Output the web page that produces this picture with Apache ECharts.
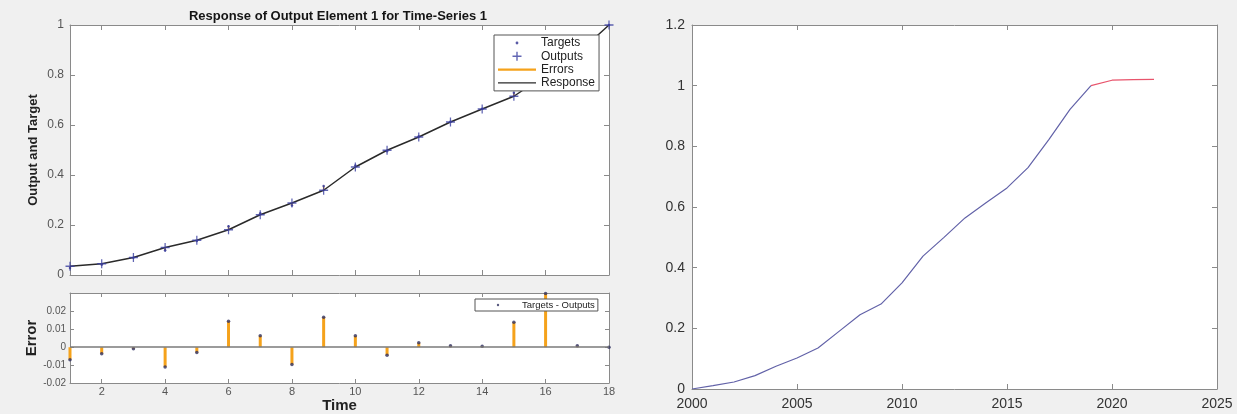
<!DOCTYPE html>
<html><head><meta charset="utf-8">
<script src="https://cdn.jsdelivr.net/npm/echarts@6/dist/echarts.min.js"></script>
<style>html,body{margin:0;padding:0;background:#f0f0f0;}#c{width:1237px;height:414px;}</style>
</head><body><div id="c"></div>
<script>
// ---- data ----
const timeSteps = [1,2,3,4,5,6,7,8,9,10,11,12,13,14,15,16,17,18];
const outputs = [0.035,0.045,0.070,0.110,0.139,0.181,0.241,0.288,0.339,0.432,0.499,0.552,0.612,0.664,0.715,0.800,0.885,1.000];
const targets = [0.028,0.041,0.069,0.099,0.136,0.195,0.247,0.278,0.356,0.438,0.495,0.555,0.613,0.665,0.729,0.830,0.886,1.000];
const errors  = [-0.007,-0.0036,-0.0008,-0.011,-0.003,0.0145,0.0064,-0.0096,0.0168,0.0064,-0.0045,0.0025,0.0008,0.0006,0.014,0.030,0.0008,0.0];
const timeTicks = [2,4,6,8,10,12,14,16,18];
const errorTicks = [-0.02,-0.01,0,0.01,0.02];
const histYears = [2000,2001,2002,2003,2004,2005,2006,2007,2008,2009,2010,2011,2012,2013,2014,2015,2016,2017,2018,2019];
const histValues = [0,0.011,0.023,0.044,0.075,0.102,0.135,0.19,0.245,0.28,0.35,0.438,0.50,0.564,0.614,0.663,0.73,0.823,0.922,1.0];
const fcstYears = [2019,2020,2021,2022];
const fcstValues = [1.0,1.018,1.02,1.021];

const FONT = 'Liberation Sans, Arial, sans-serif';
const AX = '#8a8a8a';
const fmt = v => String(+(+v).toFixed(3));
const yearFmt = v => String(Math.round(v));

function xA(grid, pos, opts) {
  return Object.assign({
    type: 'value', gridIndex: grid, position: pos,
    axisLine: {show: true, onZero: false, lineStyle: {color: AX, width: 1}},
    axisTick: {show: true, inside: true, length: 5, lineStyle: {color: AX}},
    axisLabel: {show: false},
    splitLine: {show: false}
  }, opts);
}

const chart = echarts.init(document.getElementById('c'));
const option = {
  animation: false,
  backgroundColor: '#f0f0f0',
  textStyle: {fontFamily: FONT},
  graphic: [{
    type: 'text', x: 338, y: 16,
    style: {text: 'Response of Output Element 1 for Time-Series 1', font: 'bold 13px ' + FONT,
      fill: '#151515', align: 'center', verticalAlign: 'middle', textAlign: 'center', textVerticalAlign: 'middle'}
  }],
  grid: [
    {left: 70, top: 25, width: 539, height: 250, show: true, backgroundColor: '#fff', borderWidth: 0},
    {left: 70, top: 293, width: 539, height: 90, show: true, backgroundColor: '#fff', borderWidth: 0},
    {left: 692, top: 25, width: 525, height: 364, show: true, backgroundColor: '#fff', borderWidth: 0}
  ],
  xAxis: [
    xA(0, 'bottom', {min: 1, max: 18, axisTick: {show: true, inside: true, length: 5, customValues: timeTicks, lineStyle: {color: AX}}}),
    xA(0, 'top', {min: 1, max: 18, axisTick: {show: true, inside: true, length: 5, customValues: timeTicks, lineStyle: {color: AX}}}),
    xA(1, 'bottom', {min: 1, max: 18,
      axisTick: {show: true, inside: true, length: 4, customValues: timeTicks, lineStyle: {color: AX}},
      axisLabel: {show: true, customValues: timeTicks, fontSize: 11, color: '#555', margin: 3, fontFamily: FONT},
      name: 'Time', nameLocation: 'middle', nameGap: 15,
      nameTextStyle: {fontSize: 15, fontWeight: 'bold', color: '#222', fontFamily: FONT}}),
    xA(1, 'top', {min: 1, max: 18, axisTick: {show: true, inside: true, length: 4, customValues: timeTicks, lineStyle: {color: AX}}}),
    xA(2, 'bottom', {min: 2000, max: 2025, interval: 5,
      axisLabel: {show: true, fontSize: 14, color: '#333', margin: 8, formatter: yearFmt, fontFamily: FONT}}),
    xA(2, 'top', {min: 2000, max: 2025, interval: 5})
  ],
  yAxis: [
    xA(0, 'left', {min: 0, max: 1, interval: 0.2,
      axisLabel: {show: true, fontSize: 12, color: '#555', margin: 6, formatter: fmt, fontFamily: FONT},
      name: 'Output and Target', nameLocation: 'middle', nameGap: 30,
      nameTextStyle: {fontSize: 13, fontWeight: 'bold', color: '#222', fontFamily: FONT}}),
    xA(0, 'right', {min: 0, max: 1, interval: 0.2}),
    xA(1, 'left', {min: -0.02, max: 0.0303, interval: 0.01,
      axisTick: {show: true, inside: true, length: 4, customValues: errorTicks, lineStyle: {color: AX}},
      axisLabel: {show: true, customValues: errorTicks, fontSize: 10, color: '#555', margin: 4, formatter: fmt, fontFamily: FONT},
      name: 'Error', nameLocation: 'middle', nameGap: 28,
      nameTextStyle: {fontSize: 15, fontWeight: 'bold', color: '#222', fontFamily: FONT}}),
    xA(1, 'right', {min: -0.02, max: 0.0303, interval: 0.01,
      axisTick: {show: true, inside: true, length: 4, customValues: errorTicks, lineStyle: {color: AX}}}),
    xA(2, 'left', {min: 0, max: 1.2, interval: 0.2,
      axisLabel: {show: true, fontSize: 14, color: '#333', margin: 7, formatter: fmt, fontFamily: FONT}}),
    xA(2, 'right', {min: 0, max: 1.2, interval: 0.2})
  ],
  legend: [
    {
      orient: 'vertical', left: 494, top: 35, padding: [2, 4, 2, 4], itemGap: 1.3, z: 30, zlevel: 0,
      itemWidth: 38, itemHeight: 12, backgroundColor: '#fff', borderColor: '#555', borderWidth: 1,
      selectedMode: false, borderRadius: 0,
      textStyle: {fontSize: 12, color: '#222', fontFamily: FONT},
      data: [
        {name: 'Targets', icon: 'path://M0,0M38,12M17.6,6a1.4,1.4 0 1,0 2.8,0a1.4,1.4 0 1,0 -2.8,0z', itemStyle: {color: '#2f3190', borderWidth: 0}},
        {name: 'Outputs', icon: 'path://M0,0M38,12M18.3,1.5h1.4v9h-1.4zM14.5,5.3h9v1.4h-9z', itemStyle: {color: '#3a3fa0', borderWidth: 0}},
        {name: 'Errors', icon: 'path://M0,0M38,12M0,5h38v2.2h-38z', itemStyle: {color: '#f5a21b', borderWidth: 0}},
        {name: 'Response', icon: 'path://M0,0M38,12M0,5.3h38v1.4h-38z', itemStyle: {color: '#2a2a2a', borderWidth: 0}}
      ]
    },
    {
      orient: 'vertical', left: 475, top: 299, padding: [1, 3, 1, 4], z: 30,
      itemWidth: 38, itemHeight: 10, backgroundColor: '#fff', borderColor: '#555', borderWidth: 1,
      selectedMode: false,
      textStyle: {fontSize: 9.5, color: '#222', fontFamily: FONT},
      data: [
        {name: 'Targets - Outputs', icon: 'path://M0,0M38,10M17.8,5a1.2,1.2 0 1,0 2.4,0a1.2,1.2 0 1,0 -2.4,0z', itemStyle: {color: '#2f3160', borderWidth: 0}}
      ]
    }
  ],
  series: [
    {
      name: 'Errors', type: 'custom', xAxisIndex: 0, yAxisIndex: 0, z: 2,
      data: timeSteps.map((t, i) => [t, outputs[i], targets[i]]),
      encode: {x: 0, y: [1, 2]},
      renderItem: (params, api) => {
        const a = api.coord([api.value(0), api.value(1)]);
        const b = api.coord([api.value(0), api.value(2)]);
        return {type: 'line', shape: {x1: a[0], y1: a[1], x2: b[0], y2: b[1]},
          style: {stroke: '#f5a21b', lineWidth: 1.5}};
      }
    },
    {
      name: 'Response', type: 'line', xAxisIndex: 0, yAxisIndex: 0, z: 3,
      data: timeSteps.map((t, i) => [t, outputs[i]]),
      showSymbol: false, symbol: 'none',
      lineStyle: {color: '#2a2a2a', width: 1.5}, itemStyle: {color: '#2a2a2a'}
    },
    {
      name: 'Targets', type: 'scatter', xAxisIndex: 0, yAxisIndex: 0, z: 4,
      data: timeSteps.map((t, i) => [t, targets[i]]),
      symbol: 'circle', symbolSize: 2.5, itemStyle: {color: '#2f3190'}
    },
    {
      name: 'Outputs', type: 'scatter', xAxisIndex: 0, yAxisIndex: 0, z: 5,
      data: timeSteps.map((t, i) => [t, outputs[i]]),
      symbol: 'path://M4,0h1.3v9.3h-1.3zM0,4h9.3v1.3h-9.3z', symbolSize: 9,
      itemStyle: {color: '#3a3fa0'}
    },
    {
      name: 'ErrorStems', type: 'bar', xAxisIndex: 2, yAxisIndex: 2, z: 2,
      data: timeSteps.map((t, i) => [t, errors[i]]),
      barWidth: 3, itemStyle: {color: '#f5a21b'},
      markLine: {silent: true, symbol: 'none', label: {show: false},
        lineStyle: {color: '#7a7a7a', width: 1.5, type: 'solid'}, data: [{yAxis: 0}]}
    },
    {
      name: 'Targets - Outputs', type: 'scatter', xAxisIndex: 2, yAxisIndex: 2, z: 4,
      data: timeSteps.map((t, i) => [t, errors[i]]),
      symbol: 'circle', symbolSize: 3.5, itemStyle: {color: '#2f3160'}
    },
    {
      name: 'History', type: 'line', xAxisIndex: 4, yAxisIndex: 4,
      data: histYears.map((y, i) => [y, histValues[i]]),
      showSymbol: false, symbol: 'none', lineStyle: {color: '#6262a8', width: 1.2}
    },
    {
      name: 'Forecast', type: 'line', xAxisIndex: 4, yAxisIndex: 4,
      data: fcstYears.map((y, i) => [y, fcstValues[i]]),
      showSymbol: false, symbol: 'none', lineStyle: {color: '#e8546c', width: 1.2}
    }
  ]
};
chart.setOption(option);
</script>
</body></html>
